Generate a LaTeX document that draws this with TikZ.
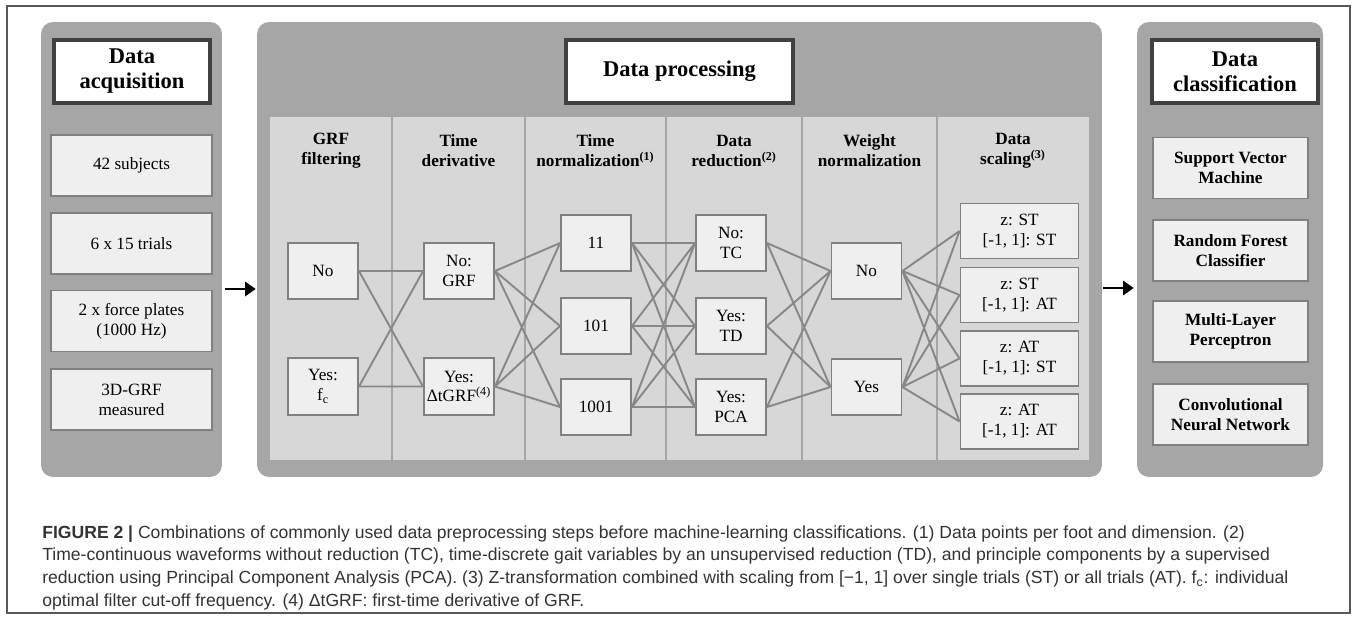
\documentclass[tikz,border=0pt]{standalone}
\usepackage{fontspec}
\setmainfont{Liberation Serif}
\newfontfamily\capfont{Liberation Sans}
\usetikzlibrary{arrows.meta}
\usetikzlibrary{calc}

\definecolor{panelgray}{HTML}{A6A6A6}
\definecolor{innergray}{HTML}{D7D7D7}
\definecolor{boxfill}{HTML}{EFEFEF}
\definecolor{boxline}{HTML}{808080}
\definecolor{linkgray}{HTML}{888888}
\definecolor{titleline}{HTML}{404040}

\tikzset{
    panel/.style={rectangle,fill=panelgray,rounded corners=0.24cm},
    titlebox/.style={rectangle,draw=titleline,line width=2.4pt,fill=white,align=center,
        minimum height=1.26cm,font=\fontsize{12.8}{14.2}\selectfont\bfseries},
    item/.style={rectangle,draw=boxline,line width=1.1pt,fill=boxfill,align=center,
        minimum width=3.22cm,minimum height=1.22cm,font=\fontsize{9.8}{11.3}\selectfont},
    opt/.style={item,minimum width=1.4cm,minimum height=1.13cm,inner sep=1pt},
    head/.style={align=center,font=\fontsize{9.8}{11.3}\selectfont\bfseries},
    sep/.style={draw=panelgray,line width=1.1pt},
    link/.style={draw=linkgray,line width=1.1pt},
    flow/.style={-{Triangle[length=6pt,width=8pt]},line width=1.7pt}
}

\begin{document}
\begin{tikzpicture}[x=0.02cm,y=-0.02cm]
        \useasboundingbox (0,0) rectangle (1358,619);
        \draw[black!65,line width=0.6pt] (7,6) rectangle (1350,613);

        % the three stages
        \node[panel,minimum width=3.62cm,minimum height=9.1cm] (Acq) at (131.5,249.5) {};
        \node[panel,minimum width=16.9cm,minimum height=9.1cm] (Proc) at (679.5,249.5) {};
        \node[panel,minimum width=3.72cm,minimum height=9.1cm] (Cls) at (1230,249.5) {};

        \node[titlebox,minimum width=3.12cm] (TAcq) at (132,71.5) {Data\\acquisition};
        \node[titlebox,minimum width=4.54cm] (TProc) at (679.5,71.5) {Data processing};
        \node[titlebox,minimum width=3.32cm] (TCls) at (1235,71.5) {Data\\classification};

        \node[item] (A1) at (131.5,165.5) {42 subjects};
        \node[item] (A2) at (131.5,243.5) {6 x 15 trials};
        \node[item] (A3) at (131.5,321) {2 x force plates\\(1000 Hz)};
        \node[item] (A4) at (131.5,399.5) {3D-GRF\\measured};

        \node[item,font=\fontsize{9.8}{11.3}\selectfont\bfseries,minimum width=3.1cm] (C1) at (1230.5,168) {Support Vector\\Machine};
        \node[item,font=\fontsize{9.8}{11.3}\selectfont\bfseries,minimum width=3.1cm] (C2) at (1230.5,250.5) {Random Forest\\Classifier};
        \node[item,font=\fontsize{9.8}{11.3}\selectfont\bfseries,minimum width=3.1cm] (C3) at (1230.5,331.5) {Multi-Layer\\Perceptron};
        \node[item,font=\fontsize{9.8}{11.3}\selectfont\bfseries,minimum width=3.1cm] (C4) at (1230.5,414.5) {Convolutional\\Neural Network};

        % processing columns
        \fill[innergray] (270,117) rectangle (1089,460);
        \draw[sep] (392,117) -- (392,460) (525,117) -- (525,460) (666,117) -- (666,460)
            (802,117) -- (802,460) (937,117) -- (937,460);

        \node[head] (H1) at (331,151) {GRF\\filtering};
        \node[head] (H2) at (458.5,151) {Time\\derivative};
        \node[head] (H3) at (595.5,151) {Time\\normalization\textsuperscript{(1)}};
        \node[head] (H4) at (734,151) {Data\\reduction\textsuperscript{(2)}};
        \node[head] (H5) at (869.5,151) {Weight\\normalization};
        \node[head] (H6) at (1013,151) {Data\\scaling\textsuperscript{(3)}};

        \node[opt] (F1) at (323,271) {No};
        \node[opt] (F2) at (323,386.5) {Yes:\\f\textsubscript{c}};
        \node[opt] (D1) at (459,271) {No:\\GRF};
        \node[opt] (D2) at (459,386.5) {Yes:\\ΔtGRF\textsuperscript{(4)}};
        \node[opt] (N1) at (596,243) {11};
        \node[opt] (N2) at (596,326) {101};
        \node[opt] (N3) at (596,407) {1001};
        \node[opt] (R1) at (731,243) {No:\\TC};
        \node[opt] (R2) at (731,326) {Yes:\\TD};
        \node[opt] (R3) at (731,407) {Yes:\\PCA};
        \node[opt] (W1) at (866.5,271) {No};
        \node[opt] (W2) at (866.5,387) {Yes};
        \node[opt,minimum width=2.36cm,minimum height=1.1cm] (S1) at (1019.5,231) {z: ST\\{[-1, 1]: ST}};
        \node[opt,minimum width=2.36cm,minimum height=1.1cm] (S2) at (1019.5,295) {z: ST\\{[-1, 1]: AT}};
        \node[opt,minimum width=2.36cm,minimum height=1.1cm] (S3) at (1019.5,358.5) {z: AT\\{[-1, 1]: ST}};
        \node[opt,minimum width=2.36cm,minimum height=1.1cm] (S4) at (1019.5,421.5) {z: AT\\{[-1, 1]: AT}};

        \draw[link] (F1.east) -- (D1.west) (F1.east) -- (D2.west)
            (F2.east) -- (D1.west) (F2.east) -- (D2.west);
        \draw[link] (D1.east) -- (N1.west) (D1.east) -- (N2.west) (D1.east) -- (N3.west)
            (D2.east) -- (N1.west) (D2.east) -- (N2.west) (D2.east) -- (N3.west);
        \draw[link] (N1.east) -- (R1.west) (N1.east) -- (R2.west) (N1.east) -- (R3.west)
            (N2.east) -- (R1.west) (N2.east) -- (R2.west) (N2.east) -- (R3.west)
            (N3.east) -- (R1.west) (N3.east) -- (R2.west) (N3.east) -- (R3.west);
        \draw[link] (R1.east) -- (W1.west) (R1.east) -- (W2.west)
            (R2.east) -- (W1.west) (R2.east) -- (W2.west)
            (R3.east) -- (W1.west) (R3.east) -- (W2.west);
        \draw[link] (W1.east) -- (S1.west) (W1.east) -- (S2.west) (W1.east) -- (S3.west) (W1.east) -- (S4.west)
            (W2.east) -- (S1.west) (W2.east) -- (S2.west) (W2.east) -- (S3.west) (W2.east) -- (S4.west);

        \draw[flow] ($(Acq.east)+(3,39.5)$) -- ($(Proc.west)+(-1,39.5)$);
        \draw[flow] ($(Proc.east)+(1,38.5)$) -- ($(Cls.west)+(-3,38.5)$);

        % caption
        \node[anchor=north west,align=left,inner sep=0pt,text=black!80,
            font=\capfont\fontsize{10}{13}\selectfont] (Cap) at (42,525)
            {\textbf{FIGURE 2 |} Combinations of commonly used data preprocessing steps before machine-learning classifications. (1) Data points per foot and dimension. (2)\\
            Time-continuous waveforms without reduction (TC), time-discrete gait variables by an unsupervised reduction (TD), and principle components by a supervised\\
            reduction using Principal Component Analysis (PCA). (3) Z-transformation combined with scaling from [−1, 1] over single trials (ST) or all trials (AT). f\textsubscript{c}: individual\\
            optimal filter cut-off frequency. (4) ΔtGRF: first-time derivative of GRF.};

    \end{tikzpicture}
\end{document}
